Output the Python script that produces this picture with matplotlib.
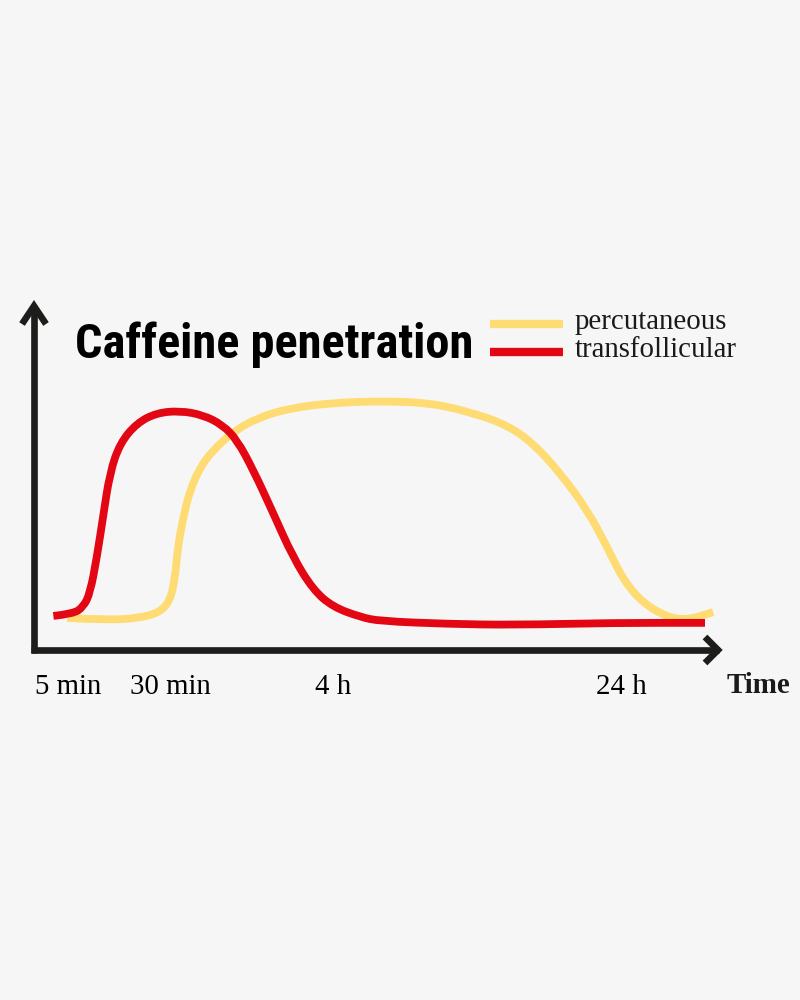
import matplotlib.pyplot as plt
from matplotlib import font_manager
from matplotlib.path import Path
from matplotlib.patches import PathPatch

# positions on a 0-100 time scale, levels on a 0-100 penetration scale
red_x = [2.7, 5.6, 7.1, 8.1, 9.1, 10.0, 11.0, 12.5, 15.0, 17.9, 21.3, 24.7, 27.6,
         29.7, 32.1, 35.0, 37.9, 40.9, 43.8, 47.8, 50.7, 60.6, 70.3, 85.0, 98.5]
red_y = [10.4, 11.0, 13.0, 17.0, 27.4, 38.9, 51.6, 60.2, 66.0, 68.9, 69.5, 68.3, 65.4,
         61.1, 52.4, 40.1, 27.4, 17.9, 13.0, 10.1, 8.9, 8.1, 7.8, 8.4, 8.4]

yel_x = [4.7, 10.5, 15.4, 18.4, 19.9, 20.6, 21.0, 21.8, 22.8, 24.3, 26.2, 29.1, 32.6,
         37.5, 43.8, 50.7, 58.1, 64.4, 69.4, 73.2, 77.2, 81.2, 84.1, 86.5, 89.4,
         92.9, 95.9, 99.7]
yel_y = [9.8, 9.2, 9.8, 11.5, 15.0, 21.6, 30.3, 38.9, 46.7, 53.3, 58.2, 63.4, 67.4,
         70.3, 71.8, 72.3, 71.8, 68.9, 65.4, 60.2, 51.6, 40.9, 30.3, 20.7, 14.1,
         10.1, 9.2, 11.5]

tick_pos = [4.85, 19.9, 43.8, 86.2]
tick_labels = ["5 min", "30 min", "4 h", "24 h"]

series_labels = ["percutaneous", "transfollicular"]
series_colors = ["#FFDB73", "#E30613"]

BG = "#F6F6F6"
AXIS = "#1D1D1B"
SERIF = "Liberation Serif"
FS = 20.8

installed = {f.name for f in font_manager.fontManager.ttflist}
title_font = "Liberation Sans"
for cand in ["Liberation Sans Narrow", "Roboto Condensed", "DejaVu Sans Condensed"]:
    if cand in installed:
        title_font = cand
        break


def smooth_path(xs, ys):
    # quadratic bezier through midpoints, read points act as control points
    verts = [(xs[0], ys[0])]
    codes = [Path.MOVETO]
    for i in range(1, len(xs) - 1):
        verts += [(xs[i], ys[i]), ((xs[i] + xs[i + 1]) / 2, (ys[i] + ys[i + 1]) / 2)]
        codes += [Path.CURVE3, Path.CURVE3]
    verts.append((xs[-1], ys[-1]))
    codes.append(Path.LINETO)
    return Path(verts, codes)


fig = plt.figure(figsize=(8, 10), dpi=100, facecolor=BG)
ax = fig.add_axes([34 / 800, 0.350, 688 / 800, 0.348])
ax.set_facecolor(BG)
ax.set_xlim(-0.15, 101.0)
ax.set_ylim(0.58, 100.86)
for s in ax.spines.values():
    s.set_visible(False)
ax.set_yticks([])
ax.set_xticks(tick_pos)
ax.set_xticklabels(tick_labels, fontsize=FS, family=SERIF)
ax.tick_params(axis="x", length=0, pad=17)

for xs, ys, col in [(yel_x, yel_y, series_colors[0]), (red_x, red_y, series_colors[1])]:
    ax.add_patch(PathPatch(smooth_path(xs, ys), fill=False, edgecolor=col, lw=5.6,
                           capstyle="butt", joinstyle="round", clip_on=False))


def px(x, y):
    return x / 800, 1 - y / 1000


def fig_line(xs, ys, **kw):
    pts = [px(a, b) for a, b in zip(xs, ys)]
    fig.add_artist(plt.Line2D([p[0] for p in pts], [p[1] for p in pts],
                              transform=fig.transFigure, **kw))


# axes with chevron arrow heads
fig_line([34, 34], [653, 306], color=AXIS, lw=4.8, solid_capstyle="butt")
fig_line([31, 719], [650, 650], color=AXIS, lw=4.8, solid_capstyle="butt")
fig_line([22, 34, 46], [324, 306, 324], color=AXIS, lw=4.8,
         solid_joinstyle="miter", solid_capstyle="butt")
fig_line([705, 718, 705], [637, 650, 663], color=AXIS, lw=4.8,
         solid_joinstyle="miter", solid_capstyle="butt")

# title
fig.text(*px(75, 358), "Caffeine penetration", fontsize=34.8, fontweight="bold",
         family=title_font, va="baseline", ha="left", color="black")

# legend
for i, (lab, col) in enumerate(zip(series_labels, series_colors)):
    yy = 324 + 28 * i
    fig_line([490, 563], [yy, yy], color=col, lw=6, solid_capstyle="butt")
    fig.text(*px(575, 329 + 28 * i), lab, fontsize=FS, family=SERIF,
             va="baseline", ha="left", color="#1a1a1a")

fig.text(*px(727, 693), "Time", fontsize=FS, fontweight="bold",
         family=SERIF, va="baseline", ha="left", color="#1a1a1a")

fig.savefig("out.png", dpi=100, facecolor=BG)
